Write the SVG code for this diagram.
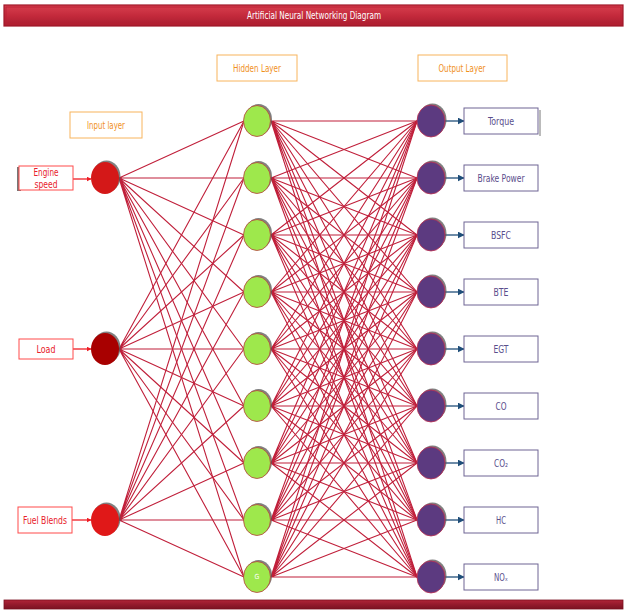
<svg xmlns="http://www.w3.org/2000/svg" width="627" height="612" viewBox="0 0 627 612">
<defs>
<linearGradient id="barg" x1="0" y1="0" x2="0" y2="1">
<stop offset="0" stop-color="#d8404f"/>
<stop offset="0.5" stop-color="#c42a3c"/>
<stop offset="1" stop-color="#a81c2e"/>
</linearGradient>
<linearGradient id="botg" x1="0" y1="0" x2="0" y2="1">
<stop offset="0" stop-color="#b02438"/>
<stop offset="0.5" stop-color="#941a2c"/>
<stop offset="1" stop-color="#7a1222"/>
</linearGradient>
<marker id="ared" viewBox="0 0 10 10" refX="9" refY="5" markerWidth="5" markerHeight="5" orient="auto" markerUnits="userSpaceOnUse">
<path d="M0 0L10 5L0 10z" fill="#ee1c24"/>
</marker>
<marker id="anavy" viewBox="0 0 10 10" refX="9" refY="5" markerWidth="7" markerHeight="7" orient="auto" markerUnits="userSpaceOnUse">
<path d="M0 0L10 5L0 10z" fill="#1f4e79"/>
</marker>
</defs>
<style>
.t{font-family:"Liberation Sans Narrow","DejaVu Sans Condensed","Liberation Sans",sans-serif;text-anchor:middle;dominant-baseline:central}
.layer rect{fill:#fff;stroke:#f8b45c;stroke-width:1}
.layer text{fill:#f0901e;font-size:10px}
.inbox{fill:#fff;stroke:#ff4a4a;stroke-width:1}
.intext{fill:#e8202a;font-size:10px}
.outbox{fill:#fff;stroke:#6e6494;stroke-width:1}
.outtext{fill:#5a4e8c;font-size:10px}
.shadow{fill:#555;opacity:0.75}
.hid{fill:#9ee84c;stroke:#b84040;stroke-width:0.8}
.out{fill:#5c3a80;stroke:#c03050;stroke-width:0.8}
.edge{fill:none;stroke:#c01f3a;stroke-width:1.1}
.inarrow{stroke:#ee1c24;stroke-width:1.3}
.outarrow{stroke:#1f4e79;stroke-width:1.3}
</style>
<rect width="627" height="612" fill="#fff"/>
<g id="title">
<rect x="4" y="5" width="619" height="21" fill="url(#barg)" stroke="#a01828" stroke-width="1.2"/>
<rect x="6" y="7" width="615" height="17" fill="none" stroke="#b82234" stroke-width="0.8"/>
<text class="t" x="314" y="15.5" fill="#fff" font-size="11" textLength="134" lengthAdjust="spacingAndGlyphs">Artificial Neural Networking Diagram</text>
</g>
<g id="bottom-bar">
<rect x="4" y="600" width="619" height="9" fill="url(#botg)" stroke="#7a1020" stroke-width="0.8"/>
</g>
<g id="layer-input" class="layer"><rect x="70" y="112" width="72" height="26"/><text class="t" x="106" y="125" textLength="38" lengthAdjust="spacingAndGlyphs">Input layer</text></g>
<g id="layer-hidden" class="layer"><rect x="217" y="55" width="80" height="26"/><text class="t" x="257" y="68" textLength="48" lengthAdjust="spacingAndGlyphs">Hidden Layer</text></g>
<g id="layer-output" class="layer"><rect x="418" y="55" width="89" height="26"/><text class="t" x="462" y="68" textLength="47" lengthAdjust="spacingAndGlyphs">Output Layer</text></g>
<g id="connectors">
<path class="edge" d="M119 178L244 121M119 178L244 178M119 178L244 235M119 178L244 292M119 178L244 349M119 178L244 406M119 178L244 463M119 178L244 520M119 178L244 577"/>
<path class="edge" d="M119 349L244 121M119 349L244 178M119 349L244 235M119 349L244 292M119 349L244 349M119 349L244 406M119 349L244 463M119 349L244 520M119 349L244 577"/>
<path class="edge" d="M119 520L244 121M119 520L244 178M119 520L244 235M119 520L244 292M119 520L244 349M119 520L244 406M119 520L244 463M119 520L244 520M119 520L244 577"/>
<path class="edge" d="M271 121L417 121M271 121L417 178M271 121L417 235M271 121L417 292M271 121L417 349M271 121L417 406M271 121L417 463M271 121L417 520M271 121L417 577"/>
<path class="edge" d="M271 178L417 121M271 178L417 178M271 178L417 235M271 178L417 292M271 178L417 349M271 178L417 406M271 178L417 463M271 178L417 520M271 178L417 577"/>
<path class="edge" d="M271 235L417 121M271 235L417 178M271 235L417 235M271 235L417 292M271 235L417 349M271 235L417 406M271 235L417 463M271 235L417 520M271 235L417 577"/>
<path class="edge" d="M271 292L417 121M271 292L417 178M271 292L417 235M271 292L417 292M271 292L417 349M271 292L417 406M271 292L417 463M271 292L417 520M271 292L417 577"/>
<path class="edge" d="M271 349L417 121M271 349L417 178M271 349L417 235M271 349L417 292M271 349L417 349M271 349L417 406M271 349L417 463M271 349L417 520M271 349L417 577"/>
<path class="edge" d="M271 406L417 121M271 406L417 178M271 406L417 235M271 406L417 292M271 406L417 349M271 406L417 406M271 406L417 463M271 406L417 520M271 406L417 577"/>
<path class="edge" d="M271 463L417 121M271 463L417 178M271 463L417 235M271 463L417 292M271 463L417 349M271 463L417 406M271 463L417 463M271 463L417 520M271 463L417 577"/>
<path class="edge" d="M271 520L417 121M271 520L417 178M271 520L417 235M271 520L417 292M271 520L417 349M271 520L417 406M271 520L417 463M271 520L417 520M271 520L417 577"/>
<path class="edge" d="M271 577L417 121M271 577L417 178M271 577L417 235M271 577L417 292M271 577L417 349M271 577L417 406M271 577L417 463M271 577L417 520M271 577L417 577"/>
<line class="inarrow" x1="73" y1="179" x2="91" y2="179" marker-end="url(#ared)"/>
<line class="inarrow" x1="73" y1="349" x2="91" y2="349" marker-end="url(#ared)"/>
<line class="inarrow" x1="72" y1="520" x2="91" y2="520" marker-end="url(#ared)"/>
<line class="outarrow" x1="445" y1="121" x2="464" y2="121" marker-end="url(#anavy)"/>
<line class="outarrow" x1="445" y1="178" x2="464" y2="178" marker-end="url(#anavy)"/>
<line class="outarrow" x1="445" y1="235" x2="464" y2="235" marker-end="url(#anavy)"/>
<line class="outarrow" x1="445" y1="292" x2="464" y2="292" marker-end="url(#anavy)"/>
<line class="outarrow" x1="445" y1="349" x2="464" y2="349" marker-end="url(#anavy)"/>
<line class="outarrow" x1="445" y1="406" x2="464" y2="406" marker-end="url(#anavy)"/>
<line class="outarrow" x1="445" y1="463" x2="464" y2="463" marker-end="url(#anavy)"/>
<line class="outarrow" x1="445" y1="520" x2="464" y2="520" marker-end="url(#anavy)"/>
<line class="outarrow" x1="445" y1="577" x2="464" y2="577" marker-end="url(#anavy)"/>
</g>
<g id="in-engine-speed">
<rect x="17" y="167" width="4" height="24" fill="#777"/>
<rect class="inbox" x="19" y="166" width="54" height="24"/>
<text class="t intext" x="46" y="172.5" textLength="25" lengthAdjust="spacingAndGlyphs">Engine</text>
<text class="t intext" x="46" y="184.5" textLength="23" lengthAdjust="spacingAndGlyphs">speed</text>
<ellipse class="shadow" cx="106.5" cy="176.5" rx="14" ry="16"/>
<ellipse cx="105" cy="178" rx="14" ry="16" fill="#d41818"/>
</g>
<g id="in-load">
<rect class="inbox" x="19" y="339" width="54" height="20"/>
<text class="t intext" x="46" y="349" textLength="19" lengthAdjust="spacingAndGlyphs">Load</text>
<ellipse class="shadow" cx="106.5" cy="347.5" rx="14" ry="16"/>
<ellipse cx="105" cy="349" rx="14" ry="16" fill="#a80000"/>
</g>
<g id="in-fuel-blends">
<rect class="inbox" x="18" y="507" width="54" height="26"/>
<text class="t intext" x="45" y="520" textLength="44" lengthAdjust="spacingAndGlyphs">Fuel Blends</text>
<ellipse class="shadow" cx="106.5" cy="518.5" rx="14" ry="16"/>
<ellipse cx="105" cy="520" rx="14" ry="16" fill="#e01818"/>
</g>
<g id="h1"><ellipse class="shadow" cx="258.5" cy="119.5" rx="13.5" ry="15.5"/><ellipse class="hid" cx="257" cy="121" rx="13.5" ry="15.5"/></g>
<g id="h2"><ellipse class="shadow" cx="258.5" cy="176.5" rx="13.5" ry="15.5"/><ellipse class="hid" cx="257" cy="178" rx="13.5" ry="15.5"/></g>
<g id="h3"><ellipse class="shadow" cx="258.5" cy="233.5" rx="13.5" ry="15.5"/><ellipse class="hid" cx="257" cy="235" rx="13.5" ry="15.5"/></g>
<g id="h4"><ellipse class="shadow" cx="258.5" cy="290.5" rx="13.5" ry="15.5"/><ellipse class="hid" cx="257" cy="292" rx="13.5" ry="15.5"/></g>
<g id="h5"><ellipse class="shadow" cx="258.5" cy="347.5" rx="13.5" ry="15.5"/><ellipse class="hid" cx="257" cy="349" rx="13.5" ry="15.5"/></g>
<g id="h6"><ellipse class="shadow" cx="258.5" cy="404.5" rx="13.5" ry="15.5"/><ellipse class="hid" cx="257" cy="406" rx="13.5" ry="15.5"/></g>
<g id="h7"><ellipse class="shadow" cx="258.5" cy="461.5" rx="13.5" ry="15.5"/><ellipse class="hid" cx="257" cy="463" rx="13.5" ry="15.5"/></g>
<g id="h8"><ellipse class="shadow" cx="258.5" cy="518.5" rx="13.5" ry="15.5"/><ellipse class="hid" cx="257" cy="520" rx="13.5" ry="15.5"/></g>
<g id="h9"><ellipse class="shadow" cx="258.5" cy="575.5" rx="13.5" ry="15.5"/><ellipse class="hid" cx="257" cy="577" rx="13.5" ry="15.5"/><text class="t" x="257" y="577" fill="#fff" font-size="7">G</text></g>
<g id="out-torque"><ellipse class="shadow" cx="432.5" cy="119.5" rx="14" ry="16"/><ellipse class="out" cx="431" cy="121" rx="14" ry="16"/><rect x="539" y="110" width="2" height="26" fill="#bbb"/><rect class="outbox" x="464" y="108" width="74" height="26"/><text class="t outtext" x="501" y="121" textLength="26" lengthAdjust="spacingAndGlyphs">Torque</text></g>
<g id="out-brake-power"><ellipse class="shadow" cx="432.5" cy="176.5" rx="14" ry="16"/><ellipse class="out" cx="431" cy="178" rx="14" ry="16"/><rect class="outbox" x="464" y="165" width="74" height="26"/><text class="t outtext" x="501" y="178" textLength="47" lengthAdjust="spacingAndGlyphs">Brake Power</text></g>
<g id="out-bsfc"><ellipse class="shadow" cx="432.5" cy="233.5" rx="14" ry="16"/><ellipse class="out" cx="431" cy="235" rx="14" ry="16"/><rect class="outbox" x="464" y="222" width="74" height="26"/><text class="t outtext" x="501" y="235" textLength="20" lengthAdjust="spacingAndGlyphs">BSFC</text></g>
<g id="out-bte"><ellipse class="shadow" cx="432.5" cy="290.5" rx="14" ry="16"/><ellipse class="out" cx="431" cy="292" rx="14" ry="16"/><rect class="outbox" x="464" y="279" width="74" height="26"/><text class="t outtext" x="501" y="292" textLength="15" lengthAdjust="spacingAndGlyphs">BTE</text></g>
<g id="out-egt"><ellipse class="shadow" cx="432.5" cy="347.5" rx="14" ry="16"/><ellipse class="out" cx="431" cy="349" rx="14" ry="16"/><rect class="outbox" x="464" y="336" width="74" height="26"/><text class="t outtext" x="501" y="349" textLength="15" lengthAdjust="spacingAndGlyphs">EGT</text></g>
<g id="out-co"><ellipse class="shadow" cx="432.5" cy="404.5" rx="14" ry="16"/><ellipse class="out" cx="431" cy="406" rx="14" ry="16"/><rect class="outbox" x="464" y="393" width="74" height="26"/><text class="t outtext" x="501" y="406" textLength="11" lengthAdjust="spacingAndGlyphs">CO</text></g>
<g id="out-co2"><ellipse class="shadow" cx="432.5" cy="461.5" rx="14" ry="16"/><ellipse class="out" cx="431" cy="463" rx="14" ry="16"/><rect class="outbox" x="464" y="450" width="74" height="26"/><text class="t outtext" x="501" y="463" textLength="14" lengthAdjust="spacingAndGlyphs">CO₂</text></g>
<g id="out-hc"><ellipse class="shadow" cx="432.5" cy="518.5" rx="14" ry="16"/><ellipse class="out" cx="431" cy="520" rx="14" ry="16"/><rect class="outbox" x="464" y="507" width="74" height="26"/><text class="t outtext" x="501" y="520" textLength="10" lengthAdjust="spacingAndGlyphs">HC</text></g>
<g id="out-nox"><ellipse class="shadow" cx="432.5" cy="575.5" rx="14" ry="16"/><ellipse class="out" cx="431" cy="577" rx="14" ry="16"/><rect class="outbox" x="464" y="564" width="74" height="26"/><text class="t outtext" x="501" y="577" textLength="14" lengthAdjust="spacingAndGlyphs">NOₓ</text></g>
</svg>
